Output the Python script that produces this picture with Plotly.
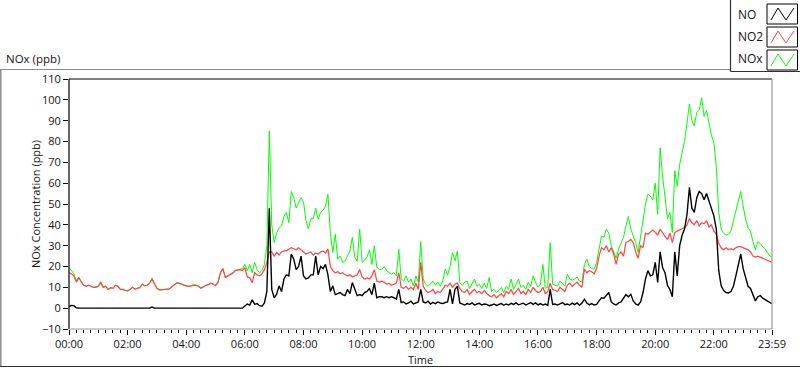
import plotly.graph_objects as go

# ---- data (5-minute steps, last point 23:59) ----
MINUTES = list(range(0, 1440, 5)) + [1439]

NO = [
    0.8, 1.3, 1.2, 0.2, 0, 0, 0, 0, 0, 0, 0, 0.3,            # 00h
    0, 0, 0, 0, 0, 0, 0, 0, 0, 0, 0, 0,                      # 01h
    0, 0, 0, 0, 0, 0.3, 0, 0, 0, 0, 0.5, 0,                  # 02h
    0, 0, 0, 0, 0, 0, 0, 0, 0, 0, 0, 0,                      # 03h
    0, 0, 0, 0, 0, 0, 0, 0, 0, 0, 0, 0,                      # 04h
    0, 0, 0, 0, 0, 0, 0, 0, 0, 0, 0, 0,                      # 05h
    1, 2, 1.5, 4, 1.8, 2.2, 1.2, 0.9, 2.5, 8, 48, 9,         # 06h
    5, 6.7, 10.7, 8, 14, 16, 15.5, 26, 23.5, 18.5, 20, 25,   # 07h
    15.5, 14, 14.5, 16, 16, 25, 16, 20, 19, 21, 16, 8,       # 08h
    10.7, 6.5, 7, 7.5, 6.5, 6, 9, 7, 12.3, 9, 6, 6.5,        # 09h
    6, 7.5, 8, 9.5, 6.5, 12, 5, 5.5, 5.5, 5, 5.5, 5,         # 10h
    5.5, 5, 4.3, 9, 2.7, 3, 2, 2.5, 3.3, 2, 2.5, 3,          # 11h
    9, 3, 2.5, 3.3, 2, 2.8, 2.2, 3, 2.5, 2.2, 2.7, 3,        # 12h
    9, 2, 9, 10.5, 2.5, 2, 1.5, 2.2, 1.8, 2.5, 1.5, 2,       # 13h
    2.3, 1.5, 2, 1.8, 1.2, 1.5, 2, 1.3, 1.7, 2.2, 1.4, 2,    # 14h
    1.5, 2.3, 1.8, 2.5, 1.6, 2, 2.4, 1.5, 2.2, 2.7, 1.8, 2.5,  # 15h
    1.6, 2.2, 1.5, 2, 1.3, 9, 1.8, 2, 1.5, 2.3, 2.7, 1.7,    # 16h
    2, 1.5, 2.4, 1.7, 2.5, 1.4, 2.5, 4.3, 2.5, 1.6, 2.2, 1.5,  # 17h
    1.8, 3.5, 5, 4.8, 6, 7.5, 3, 2, 1.5, 2.5, 3, 5,          # 18h
    6.5, 5.5, 6.7, 3.5, 2, 1.5, 3, 7.5, 14, 18, 15.5, 16,    # 19h
    22, 12.3, 27, 19.5, 17, 11, 9, 5.5, 27, 15.5, 30, 35,    # 20h
    38, 45, 58, 48, 46, 53, 56, 55, 52, 55, 51.5, 48,        # 21h
    44.3, 38, 18, 10.7, 8.5, 7.5, 7.3, 8, 10.5, 15.5, 21, 26,  # 22h
    19, 14, 10.5, 9.5, 6, 3.5, 5.5, 6, 4.8, 4, 3.2, 2.7,     # 23h
    2.2,
]

NO2 = [
    17, 16.5, 15.5, 12.5, 14.5, 12.5, 11, 10.5, 11, 10.5, 10, 10,          # 00h
    10.5, 12.3, 10, 10.5, 9, 9.8, 9.5, 11, 10.5, 9, 9, 8.5,               # 01h
    8.3, 9, 10, 9.2, 9.5, 9.8, 11.5, 10.8, 11, 12, 14, 11.5,              # 02h
    9.5, 8.8, 8.8, 9, 9.2, 9.2, 10.2, 11, 12, 12, 11.5, 11,               # 03h
    10.7, 10.5, 10.7, 10.8, 11, 10.5, 9.6, 10.2, 11, 11.2, 12, 11.5,      # 04h
    10.8, 12.5, 17, 19, 14.7, 15.5, 16, 16.8, 18, 18.4, 18.5, 18,         # 05h
    19.5, 15, 14.5, 12.3, 17, 16, 15.5, 16.5, 18.5, 22, 27, 27,           # 06h
    25, 26.7, 25.5, 27, 27.5, 27.5, 28.3, 29, 28.5, 28, 29, 28,           # 07h
    27, 26, 26.5, 27, 25.5, 26.5, 26, 27, 27.5, 26.5, 28.3, 20,           # 08h
    18, 17, 17.5, 16.5, 17, 16, 15.5, 16, 15, 15.5, 16, 18.5,             # 09h
    15, 14, 14.5, 14, 15.5, 18.5, 13, 12.5, 13, 12.5, 11.5, 12,           # 10h
    11, 11.5, 12, 17, 10, 9.5, 10.5, 9, 10, 9, 12, 9,                     # 11h
    22, 10.5, 8.5, 7.5, 8, 9, 7, 8, 7.5, 9, 11, 10.5,                     # 12h
    12, 10, 11.5, 12, 9.5, 8, 7.5, 9, 6.5, 8, 9, 7.5,                     # 13h
    8, 7, 8.5, 7, 6, 5.5, 6.5, 5, 6, 7, 5.5, 8,                           # 14h
    7, 9, 6.5, 8, 9.5, 7, 8, 6.5, 9, 7.5, 10, 8.5,                        # 15h
    7.5, 8, 10, 7, 8, 12, 9, 8.5, 8, 10, 9, 8,                            # 16h
    11, 12, 10.5, 11.5, 12.5, 11, 10, 18.7, 17, 18, 17.5, 16.5,           # 17h
    19, 25, 29, 28, 30, 27, 29, 26, 21, 26, 27, 25,                       # 18h
    31.5, 32, 33, 31.5, 27, 24, 30, 29, 36, 35.5, 36.5, 37.5,             # 19h
    36.5, 35, 38, 36, 34.5, 33, 36, 31.5, 36.3, 37, 37.5, 38,             # 20h
    38.7, 40, 43, 41, 40, 42, 39.5, 41, 40.5, 42, 39, 40,                 # 21h
    37, 35.5, 31, 29, 28, 29, 28, 28.5, 28, 29, 29.5, 29.5,               # 22h
    29, 28.5, 28, 27, 25, 24.5, 25, 24.5, 24, 23.5, 23, 22.5,             # 23h
    22,
]

NOX = [
    19.5, 18, 16.5, 13, 15, 12.5, 11, 10.5, 11, 10.5, 10, 10.3,           # 00h
    10.5, 12.8, 10, 10.5, 9, 9.8, 9.5, 11, 10.5, 9, 9, 8.5,               # 01h
    8.3, 9, 10, 9.2, 9.5, 10.1, 11.5, 10.8, 11, 12, 14.5, 11.5,           # 02h
    9.5, 8.8, 8.8, 9, 9.2, 9.2, 10.2, 11, 12.3, 12, 11.5, 11,             # 03h
    10.7, 10.5, 10.7, 11.5, 11, 10.5, 9.6, 10.2, 11, 11.2, 12, 11.5,      # 04h
    10.8, 12.5, 17, 19, 14.7, 15.5, 16, 16.8, 18, 18.4, 18.5, 19,         # 05h
    21, 18, 21, 17, 22, 18.5, 17, 18, 21, 30, 85, 40,                     # 06h
    31.5, 36, 38.5, 39.5, 44, 46, 41, 56, 53, 48, 50.7, 53,               # 07h
    51, 42, 38, 43, 43, 48, 42.7, 46, 47, 49, 54.7, 36,                   # 08h
    26.7, 35.5, 23.5, 25, 22, 22.7, 25, 27.5, 34, 24.5, 22.5, 38,         # 09h
    22, 23, 24.5, 28, 21, 30, 19.5, 18.7, 18.5, 20, 18, 17,               # 10h
    16.3, 17, 15.5, 28.3, 14, 13, 15.5, 12.5, 14, 10.7, 15.5, 12.5,       # 11h
    32, 14, 11.5, 10.5, 12, 13, 11, 12.5, 10.5, 13, 18.7, 16,             # 12h
    20, 26.7, 22.7, 27.5, 12, 11, 12.5, 13, 9.5, 11.5, 14, 10.5,          # 13h
    11.5, 9.5, 12, 9.5, 14.7, 8, 9, 7.5, 8.5, 10, 7.5, 10.5,              # 14h
    9, 14, 9, 11.5, 14, 10, 11, 9, 12.5, 10.5, 15.5, 12.5,                # 15h
    10, 11.5, 21, 9.5, 10, 31.5, 11.5, 11, 10.5, 13, 12, 10.5,            # 16h
    16.3, 14, 13.5, 14, 15, 13, 12.5, 21, 23.5, 20, 19, 18.7,             # 17h
    22, 28.3, 34.7, 34, 38, 36, 30, 27, 24, 28.5, 31.5, 34,               # 18h
    39.5, 44, 38, 35, 31.5, 26.7, 34, 42.7, 50, 54.7, 53.8, 52,           # 19h
    60, 45, 77, 63.5, 52, 43, 46, 36.3, 66, 58.7, 69, 74,                 # 20h
    80, 89, 98, 90, 87.5, 94, 95, 101, 92, 95, 88, 83,                    # 21h
    79.5, 68, 46, 38, 36, 35, 35.5, 37, 42, 47, 52, 56,                   # 22h
    49, 42.7, 38.5, 37, 32, 28, 32, 31, 29.5, 28.5, 26.5, 25,             # 23h
    24.5,
]

TICK_MINUTES = [0, 120, 240, 360, 480, 600, 720, 840, 960, 1080, 1200, 1320, 1439]
TICK_LABELS = ["00:00", "02:00", "04:00", "06:00", "08:00", "10:00", "12:00",
               "14:00", "16:00", "18:00", "20:00", "22:00", "23:59"]
Y_TICKS = list(range(-10, 111, 10))

SERIES_NAMES = ["NO", "NO2", "NOx"]
COLORS = {"NO": "#000000", "NO2": "#ff4646", "NOx": "#00ff00"}

# ---- layout geometry (pixels) ----
W, H = 800, 369
ML, MR, MT, MB = 69, 28, 79, 40
PW, PH = W - ML - MR, H - MT - MB


def px(x):
    return (x - ML) / PW


def py(y):
    return (H - MB - y) / PH


FONT = "Open Sans"
TXT = "#141414"

fig = go.Figure()
for name, vals, width in [("NOx", NOX, 1), ("NO2", NO2, 1.25), ("NO", NO, 1.4)]:
    fig.add_trace(go.Scatter(x=MINUTES, y=vals, mode="lines", name=name,
                             line=dict(color=COLORS[name], width=width),
                             showlegend=False, hoverinfo="skip"))

fig.update_layout(
    width=W, height=H,
    margin=dict(l=ML, r=MR, t=MT, b=MB),
    paper_bgcolor="white", plot_bgcolor="white",
    font=dict(family=FONT, size=11, color=TXT),
)
fig.update_xaxes(range=[0, 1439], tickmode="array", tickvals=TICK_MINUTES, ticktext=TICK_LABELS,
                 ticks="outside", ticklen=5, tickcolor="black", tickwidth=1,
                 showgrid=False, zeroline=False, showline=False,
                 tickfont=dict(size=11, color=TXT),
                 minor=dict(tickmode="linear", tick0=0, dtick=15, ticks="outside",
                            ticklen=3, tickcolor="black", showgrid=False))
fig.update_yaxes(range=[-10, 110], tickmode="array", tickvals=Y_TICKS,
                 ticks="outside", ticklen=5, tickcolor="black", tickwidth=1,
                 showgrid=False, zeroline=False, showline=False,
                 tickfont=dict(size=11, color=TXT))

shapes = []
# plot-area frame: dark top/left, grey bottom/right
shapes.append(dict(type="line", xref="paper", yref="paper", x0=0, x1=1, y0=1, y1=1,
                   line=dict(color="black", width=1.2)))
shapes.append(dict(type="line", xref="paper", yref="paper", x0=0, x1=0, y0=0, y1=1,
                   line=dict(color="black", width=1.2)))
shapes.append(dict(type="line", xref="paper", yref="paper", x0=0, x1=1, y0=0, y1=0,
                   line=dict(color="#9a9a9a", width=1.2)))
shapes.append(dict(type="line", xref="paper", yref="paper", x0=1, x1=1, y0=0, y1=1,
                   line=dict(color="#9a9a9a", width=1.2)))
# outer chart frame
shapes.append(dict(type="line", xref="paper", yref="paper", x0=px(0), x1=px(730),
                   y0=py(69.5), y1=py(69.5), line=dict(color="#8c8c8c", width=1.2)))
shapes.append(dict(type="line", xref="paper", yref="paper", x0=px(0.8), x1=px(0.8),
                   y0=py(69.5), y1=py(366.5), line=dict(color="#8c8c8c", width=1.5)))
shapes.append(dict(type="line", xref="paper", yref="paper", x0=px(0), x1=px(800),
                   y0=py(366.5), y1=py(366.5), line=dict(color="#303030", width=1.2)))
# legend frame
shapes.append(dict(type="line", xref="paper", yref="paper", x0=px(730.5), x1=px(730.5),
                   y0=py(0), y1=py(71.5), line=dict(color="#303030", width=1.2)))
shapes.append(dict(type="line", xref="paper", yref="paper", x0=px(730.5), x1=px(800),
                   y0=py(71.5), y1=py(71.5), line=dict(color="#303030", width=1.2)))

annotations = []
legend_rows = [(14, 4, 24), (36.5, 27, 47), (59, 50, 70)]
for name, (ty, by0, by1) in zip(SERIES_NAMES, legend_rows):
    annotations.append(dict(text=name, xref="paper", yref="paper", x=px(736), y=py(ty),
                            xanchor="left", yanchor="middle", showarrow=False,
                            font=dict(size=12, color=TXT, family=FONT)))
    bx0, bx1 = 767, 797.5
    shapes.append(dict(type="rect", xref="paper", yref="paper", x0=px(bx0), x1=px(bx1),
                       y0=py(by0), y1=py(by1), line=dict(color="black", width=1),
                       fillcolor="white"))
    # zigzag icon inside the legend box
    zx = [bx0 + 4, bx0 + 11, bx0 + 19, bx0 + 27]
    zy = [by1 - 4, by0 + 4, by1 - 4, by0 + 4]
    path = "M {} {}".format(px(zx[0]), py(zy[0]))
    for a, b in zip(zx[1:], zy[1:]):
        path += " L {} {}".format(px(a), py(b))
    shapes.append(dict(type="path", xref="paper", yref="paper", path=path,
                       line=dict(color=COLORS[name], width=1)))

annotations.append(dict(text="NOx (ppb)", xref="paper", yref="paper", x=px(4), y=py(59),
                        xanchor="left", yanchor="middle", showarrow=False,
                        font=dict(size=11.5, color=TXT)))
annotations.append(dict(text="NOx Concentration (ppb)", xref="paper", yref="paper",
                        x=px(35), y=py(204), textangle=-90, xanchor="center", yanchor="middle",
                        showarrow=False, font=dict(size=11, color=TXT)))
annotations.append(dict(text="Time", xref="paper", yref="paper", x=px(420), y=py(359),
                        xanchor="center", yanchor="middle", showarrow=False,
                        font=dict(size=11, color=TXT)))

fig.update_layout(shapes=shapes, annotations=annotations)
fig.write_html("out.html", config={"displayModeBar": False},
               post_script="document.body.style.margin='0';document.body.style.padding='0';")
